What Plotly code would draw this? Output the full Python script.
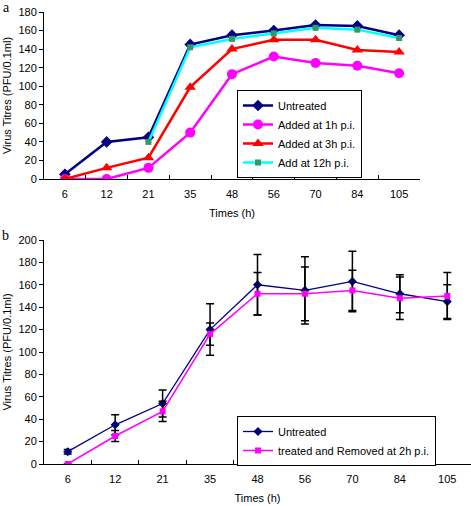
import plotly.graph_objects as go

times = ["6", "12", "21", "35", "48", "56", "70", "84", "105"]

# Panel a
a_untreated = [5, 40, 45, 145, 155, 160, 166, 165, 155]
a_added_1h = [0, 0, 12, 50, 113, 132, 125, 122, 114]
a_added_3h = [0, 12, 23, 99, 140, 150, 150, 139, 137]
a_added_12h = [None, None, 40, 142, 151, 157, 163, 161, 152]

# Panel b
b_untreated = [11, 35, 54, 120, 160, 155, 163, 152, 145]
b_untreated_err = [2, 9, 12, 23, 27, 30, 27, 17, 15]
b_removed = [0, 25, 47, 116, 152, 152, 155, 148, 150]
b_removed_err = [0, 5, 9, 10, 19, 24, 18, 19, 21]

W, H = 471, 506
def px_x(v):
    return v / W
def px_y(v):
    return 1 - v / H

fig = go.Figure()

# Panel a traces
fig.add_trace(go.Scatter(x=times, y=a_untreated, name="Untreated", mode="lines+markers",
                         line=dict(color="#000080", width=2.5),
                         marker=dict(symbol="diamond", size=9, color="#000080"),
                         xaxis="x", yaxis="y", legend="legend"))
fig.add_trace(go.Scatter(x=times, y=a_added_1h, name="Added at 1h p.i.", mode="lines+markers",
                         line=dict(color="#FF00FF", width=2.5),
                         marker=dict(symbol="circle", size=10, color="#FF00FF"),
                         xaxis="x", yaxis="y", legend="legend"))
fig.add_trace(go.Scatter(x=times, y=a_added_3h, name="Added at 3h p.i.", mode="lines+markers",
                         line=dict(color="#FF0000", width=2.5),
                         marker=dict(symbol="triangle-up", size=10, color="#FF0000"),
                         xaxis="x", yaxis="y", legend="legend"))
fig.add_trace(go.Scatter(x=times, y=a_added_12h, name="Add at 12h p.i.", mode="lines+markers",
                         line=dict(color="#00FFFF", width=2.5),
                         marker=dict(symbol="square", size=6, color="#339966"),
                         xaxis="x", yaxis="y", legend="legend"))

# Panel b traces
fig.add_trace(go.Scatter(x=times, y=b_untreated, name="Untreated", mode="lines+markers",
                         line=dict(color="#000080", width=1.3),
                         marker=dict(symbol="diamond", size=7, color="#000080"),
                         error_y=dict(type="data", array=b_untreated_err, color="black",
                                      thickness=1.5, width=4),
                         xaxis="x2", yaxis="y2", legend="legend2"))
fig.add_trace(go.Scatter(x=times, y=b_removed, name="treated and Removed at 2h p.i.", mode="lines+markers",
                         line=dict(color="#FF00FF", width=1.5),
                         marker=dict(symbol="square", size=6, color="#FF00FF"),
                         error_y=dict(type="data", array=b_removed_err, color="black",
                                      thickness=1.5, width=4),
                         xaxis="x2", yaxis="y2", legend="legend2"))

axis_font = dict(family="Liberation Sans, Arial, sans-serif", size=11, color="black")

xcommon = dict(type="category", categoryorder="array", categoryarray=times,
               showline=True, linecolor="black", linewidth=1, ticks="inside",
               tickson="boundaries", ticklen=4, tickcolor="black", showgrid=False,
               zeroline=False, tickfont=axis_font, range=[-0.5, 8.5], automargin=False,
               ticklabelstandoff=5,
               title=dict(text="Times (h)", font=axis_font, standoff=10))
ycommon = dict(showline=True, linecolor="black", linewidth=1, ticks="outside",
               ticklen=4, tickcolor="black", showgrid=False, zeroline=False,
               tickfont=axis_font, dtick=20, automargin=False,
               title=dict(text="Virus Titres (PFU/0.1ml)", font=axis_font, standoff=4))

leg_font = dict(family="Liberation Sans, Arial, sans-serif", size=11, color="black")

fig.update_layout(
    width=W, height=H,
    margin=dict(l=0, r=0, t=0, b=0),
    paper_bgcolor="white", plot_bgcolor="white",
    font=axis_font,
    xaxis=dict(xcommon, domain=[px_x(44), px_x(420)], anchor="y"),
    yaxis=dict(ycommon, domain=[px_y(179), px_y(12)], range=[0, 180], anchor="x"),
    xaxis2=dict(xcommon, domain=[px_x(44), px_x(471)], anchor="y2"),
    yaxis2=dict(ycommon, domain=[px_y(464), px_y(240)], range=[0, 200], anchor="x2"),
    legend=dict(x=px_x(237), y=px_y(134), xanchor="left", yanchor="middle",
                bordercolor="black", borderwidth=1, bgcolor="white",
                font=leg_font, tracegroupgap=0, itemwidth=30),
    legend2=dict(x=px_x(237), y=px_y(441), xanchor="left", yanchor="middle",
                 bordercolor="black", borderwidth=1, bgcolor="white",
                 font=leg_font, tracegroupgap=0, itemwidth=30),
    showlegend=True,
    annotations=[
        dict(text="a", x=px_x(1), y=px_y(-2), xref="paper", yref="paper",
             xanchor="left", yanchor="top", showarrow=False,
             font=dict(family="Liberation Serif, Times New Roman, serif", size=14, color="black")),
        dict(text="b", x=px_x(0), y=px_y(226), xref="paper", yref="paper",
             xanchor="left", yanchor="top", showarrow=False,
             font=dict(family="Liberation Serif, Times New Roman, serif", size=14, color="black")),
    ],
)

fig.write_html("out.html", config={"displayModeBar": False},
               post_script="document.body.style.margin='0';document.body.style.padding='0';")
